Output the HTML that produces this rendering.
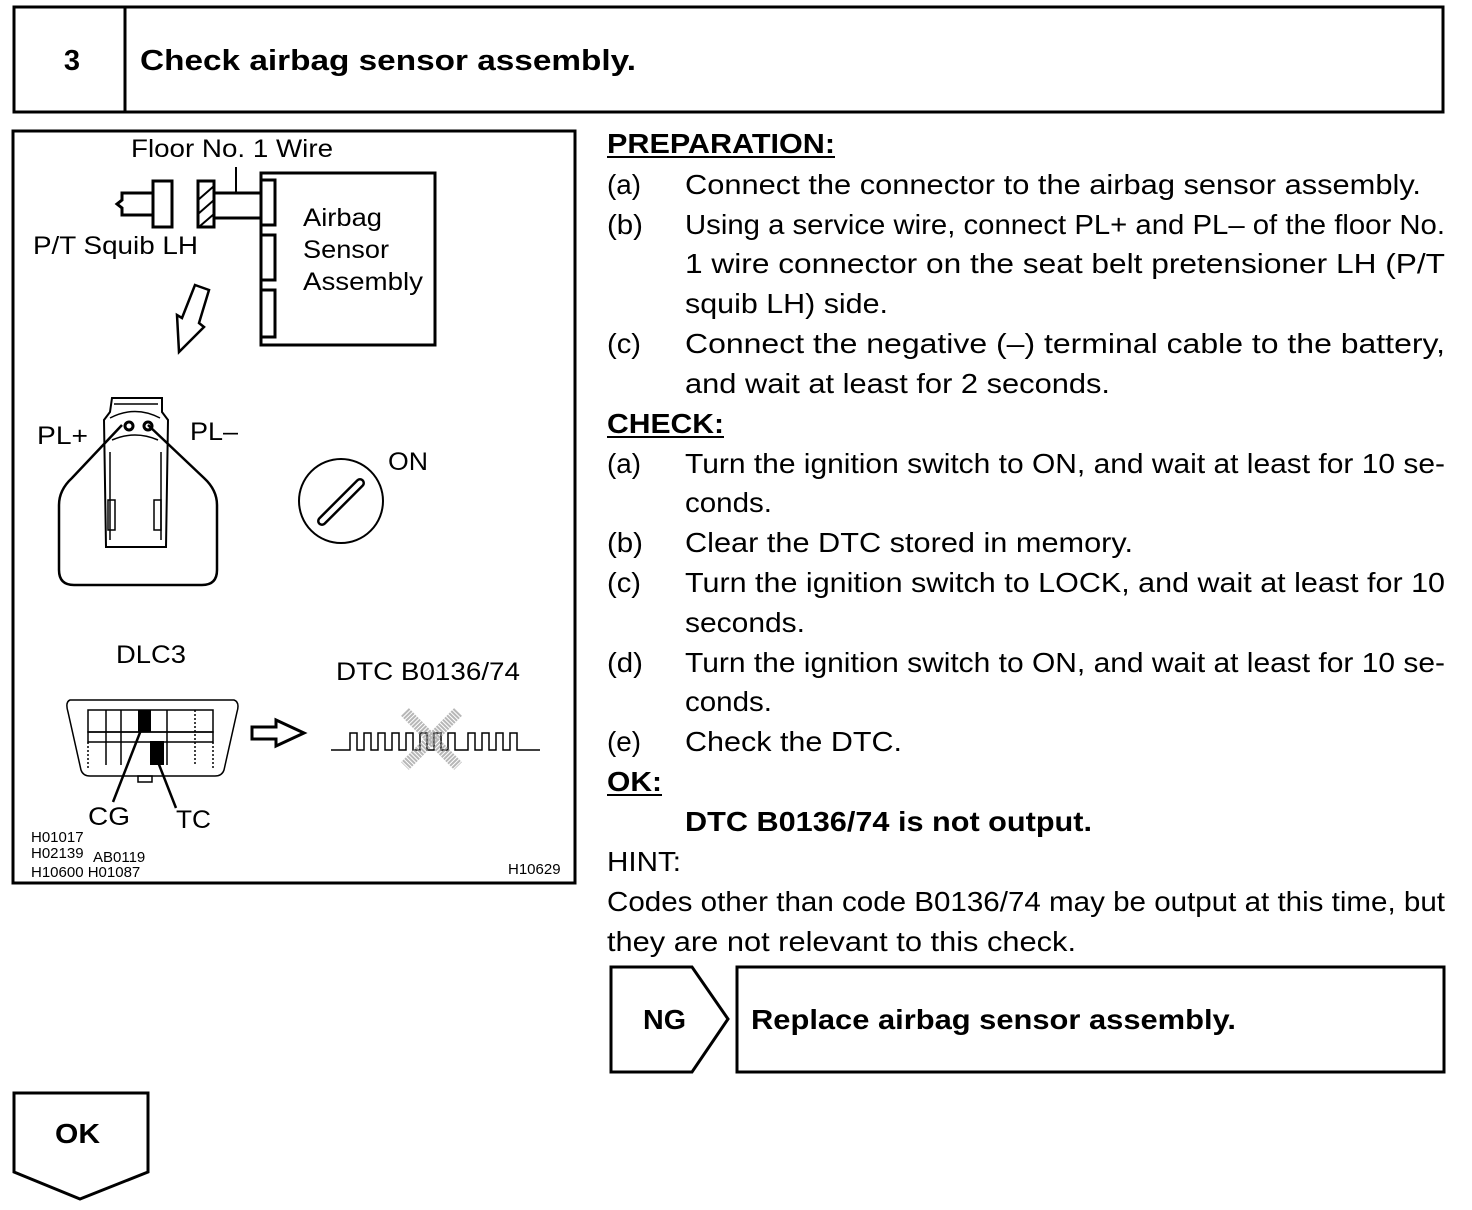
<!DOCTYPE html>
<html><head><meta charset="utf-8"><style>
html,body{margin:0;padding:0;background:#fff;}
svg{display:block;}
text{font-family:"Liberation Sans",Arial,sans-serif;fill:#000;}
.b{font-size:28px;}
.d{font-size:25px;}
.s{font-size:15px;}
.bold{font-weight:bold;}
</style></head><body>
<svg width="1472" height="1210" viewBox="0 0 1472 1210" xmlns="http://www.w3.org/2000/svg">
<!-- header -->
<rect x="14" y="7" width="1429" height="105" fill="none" stroke="#000" stroke-width="3"/>
<line x1="125" y1="7" x2="125" y2="112" stroke="#000" stroke-width="3"/>
<text x="72" y="70" class="bold" text-anchor="middle" style="font-size:29px">3</text>
<text x="140" y="70" class="bold" style="font-size:29px" textLength="496" lengthAdjust="spacingAndGlyphs">Check airbag sensor assembly.</text>

<!-- diagram box -->
<rect x="13" y="131" width="562" height="752" fill="none" stroke="#000" stroke-width="3"/>
<text x="131" y="157" class="d" textLength="202" lengthAdjust="spacingAndGlyphs">Floor No. 1 Wire</text>
<text x="33" y="254" class="d" textLength="165" lengthAdjust="spacingAndGlyphs">P/T Squib LH</text>
<text x="303" y="226" class="d" textLength="79" lengthAdjust="spacingAndGlyphs">Airbag</text>
<text x="303" y="258" class="d" textLength="86" lengthAdjust="spacingAndGlyphs">Sensor</text>
<text x="303" y="290" class="d" textLength="120" lengthAdjust="spacingAndGlyphs">Assembly</text>
<g fill="none" stroke="#000" stroke-width="3">
<rect x="261" y="173" width="174" height="172"/>
<rect x="261" y="180" width="14" height="45"/>
<rect x="261" y="235" width="14" height="45"/>
<rect x="261" y="290" width="14" height="47"/>
<line x1="214" y1="193" x2="261" y2="193"/>
<line x1="214" y1="218" x2="261" y2="218"/>
<line x1="236" y1="167" x2="236" y2="193" stroke-width="2"/>
<rect x="198" y="181" width="16" height="46"/>
<line x1="198" y1="200" x2="214" y2="186" stroke-width="2"/>
<line x1="198" y1="214" x2="214" y2="200" stroke-width="2"/>
<line x1="200" y1="226" x2="214" y2="214" stroke-width="2"/>
<rect x="153" y="181" width="19" height="46"/>
<polyline points="153,193 122,193 122,200 117,204 122,208 122,215 153,215"/>
<polygon points="195,285 209,290 199,323 204,327 179,352 177,315 182,318" stroke-width="2.5"/>
<!-- connector -->
<path d="M122,425 L72,478 Q59,490 59,505 L59,570 Q59,585 74,585 L202,585 Q217,585 217,570 L217,505 Q217,490 204,478 L148,425" stroke-width="2.5"/>
<path d="M112,398 L162,398 L162,412 L168,420 L166,547 L106,547 L104,420 L110,412 Z" stroke-width="2"/>
<path d="M114,404 L158,404 M110,418 Q135,405 160,418 M112,440 Q135,430 158,440 M110,452 L110,540 M161,452 L161,540" stroke-width="1.5"/>
<rect x="108" y="500" width="7" height="30" stroke-width="1.5"/>
<rect x="154" y="500" width="7" height="30" stroke-width="1.5"/>
<circle cx="129" cy="426" r="4" stroke-width="3"/>
<circle cx="148" cy="426" r="4" stroke-width="3"/>
<!-- ignition -->
<circle cx="341" cy="501" r="42" stroke-width="2"/>
<line x1="322" y1="521" x2="360" y2="483" stroke-width="10" stroke-linecap="round"/>
<line x1="322" y1="521" x2="360" y2="483" stroke="#fff" stroke-width="5" stroke-linecap="round"/>
</g>
<text x="37" y="444" class="d" textLength="51" lengthAdjust="spacingAndGlyphs">PL+</text>
<text x="190" y="440" class="d" textLength="48" lengthAdjust="spacingAndGlyphs">PL–</text>
<text x="388" y="470" class="d" textLength="40" lengthAdjust="spacingAndGlyphs">ON</text>

<text x="116" y="663" class="d" textLength="70" lengthAdjust="spacingAndGlyphs">DLC3</text>
<text x="336" y="680" class="d" textLength="184" lengthAdjust="spacingAndGlyphs">DTC B0136/74</text>
<g fill="none" stroke="#000" stroke-width="1.5">
<path d="M70,700 L234,700 Q240,702 237,712 L224,770 Q222,776 215,776 L90,776 Q83,776 81,770 L68,712 Q65,702 70,700 Z"/>
<rect x="88" y="710" width="125" height="22"/>
<rect x="88" y="732" width="125" height="10"/>
<line x1="106" y1="710" x2="106" y2="765"/><line x1="121" y1="710" x2="121" y2="765"/>
<line x1="167" y1="710" x2="167" y2="765"/><line x1="195" y1="710" x2="195" y2="765" stroke-dasharray="2,2"/>
<line x1="88" y1="742" x2="88" y2="768" stroke-dasharray="2,2"/><line x1="213" y1="742" x2="213" y2="768" stroke-dasharray="2,2"/>
<rect x="138" y="776" width="14" height="6"/>
<polygon points="252,727 276,727 276,720 304,733 276,746 276,739 252,739" stroke-width="3"/>
<polyline points="331,750 350,750 350,733 357,733 357,750 364,750 364,733 371,733 371,750 378,750 378,733 385,733 385,750 392,750 392,733 399,733 399,750 406,750 406,733 413,733 413,750 420,750 420,733 427,733 427,750 434,750 434,733 441,733 441,750 448,750 448,733 455,733 455,750 468,750 468,733 475,733 475,750 482,750 482,733 489,733 489,750 496,750 496,733 503,733 503,750 510,750 510,733 517,733 517,750 540,750"/>
</g>
<rect x="138" y="710" width="13" height="22" fill="#000"/>
<rect x="150" y="741" width="14" height="24" fill="#000"/>
<line x1="141" y1="730" x2="113" y2="802" stroke="#000" stroke-width="2.5"/>
<line x1="158" y1="762" x2="176" y2="808" stroke="#000" stroke-width="2.5"/>
<g stroke="#999" stroke-width="11" opacity="0.7" stroke-dasharray="2,1">
<line x1="405" y1="712" x2="458" y2="766"/>
<line x1="458" y1="712" x2="405" y2="766"/>
</g>
<text x="88" y="825" class="d" textLength="42" lengthAdjust="spacingAndGlyphs">CG</text>
<text x="176" y="828" class="d" textLength="35" lengthAdjust="spacingAndGlyphs">TC</text>
<text x="31" y="842" class="s">H01017</text>
<text x="31" y="858" class="s">H02139</text>
<text x="93" y="862" class="s">AB0119</text>
<text x="31" y="877" class="s">H10600 H01087</text>
<text x="508" y="874" class="s">H10629</text>

<!-- right text -->
<text x="607" y="153" class="b bold" textLength="228" lengthAdjust="spacingAndGlyphs">PREPARATION:</text>
<line x1="607" y1="157" x2="835" y2="157" stroke="#000" stroke-width="2"/>
<text x="607" y="194" class="b" textLength="34" lengthAdjust="spacingAndGlyphs">(a)</text><text x="685" y="194" class="b" textLength="736" lengthAdjust="spacingAndGlyphs">Connect the connector to the airbag sensor assembly.</text>
<text x="607" y="234" class="b" textLength="36" lengthAdjust="spacingAndGlyphs">(b)</text><text x="685" y="234" class="b" textLength="760" lengthAdjust="spacingAndGlyphs">Using a service wire, connect PL+ and PL– of the floor No.</text>
<text x="685" y="273" class="b" textLength="760" lengthAdjust="spacingAndGlyphs">1 wire connector on the seat belt pretensioner LH (P/T</text>
<text x="685" y="313" class="b" textLength="203" lengthAdjust="spacingAndGlyphs">squib LH) side.</text>
<text x="607" y="353" class="b" textLength="34" lengthAdjust="spacingAndGlyphs">(c)</text><text x="685" y="353" class="b" textLength="760" lengthAdjust="spacingAndGlyphs">Connect the negative (–) terminal cable to the battery,</text>
<text x="685" y="393" class="b" textLength="425" lengthAdjust="spacingAndGlyphs">and wait at least for 2 seconds.</text>
<text x="607" y="433" class="b bold" textLength="117" lengthAdjust="spacingAndGlyphs">CHECK:</text>
<line x1="607" y1="437" x2="724" y2="437" stroke="#000" stroke-width="2"/>
<text x="607" y="473" class="b" textLength="34" lengthAdjust="spacingAndGlyphs">(a)</text><text x="685" y="473" class="b" textLength="760" lengthAdjust="spacingAndGlyphs">Turn the ignition switch to ON, and wait at least for 10 se-</text>
<text x="685" y="512" class="b" textLength="87" lengthAdjust="spacingAndGlyphs">conds.</text>
<text x="607" y="552" class="b" textLength="36" lengthAdjust="spacingAndGlyphs">(b)</text><text x="685" y="552" class="b" textLength="448" lengthAdjust="spacingAndGlyphs">Clear the DTC stored in memory.</text>
<text x="607" y="592" class="b" textLength="34" lengthAdjust="spacingAndGlyphs">(c)</text><text x="685" y="592" class="b" textLength="760" lengthAdjust="spacingAndGlyphs">Turn the ignition switch to LOCK, and wait at least for 10</text>
<text x="685" y="632" class="b" textLength="120" lengthAdjust="spacingAndGlyphs">seconds.</text>
<text x="607" y="672" class="b" textLength="36" lengthAdjust="spacingAndGlyphs">(d)</text><text x="685" y="672" class="b" textLength="760" lengthAdjust="spacingAndGlyphs">Turn the ignition switch to ON, and wait at least for 10 se-</text>
<text x="685" y="711" class="b" textLength="87" lengthAdjust="spacingAndGlyphs">conds.</text>
<text x="607" y="751" class="b" textLength="34" lengthAdjust="spacingAndGlyphs">(e)</text><text x="685" y="751" class="b" textLength="217" lengthAdjust="spacingAndGlyphs">Check the DTC.</text>
<text x="607" y="791" class="b bold" textLength="55" lengthAdjust="spacingAndGlyphs">OK:</text>
<line x1="607" y1="795" x2="662" y2="795" stroke="#000" stroke-width="2"/>
<text x="685" y="831" class="b bold" textLength="407" lengthAdjust="spacingAndGlyphs">DTC B0136/74 is not output.</text>
<text x="607" y="871" class="b" textLength="74" lengthAdjust="spacingAndGlyphs">HINT:</text>
<text x="607" y="911" class="b" textLength="838" lengthAdjust="spacingAndGlyphs">Codes other than code B0136/74 may be output at this time, but</text>
<text x="607" y="951" class="b" textLength="469" lengthAdjust="spacingAndGlyphs">they are not relevant to this check.</text>

<!-- NG -->
<polygon points="611,967 692,967 728,1019 692,1072 611,1072" fill="none" stroke="#000" stroke-width="3"/>
<rect x="737" y="967" width="707" height="105" fill="none" stroke="#000" stroke-width="3"/>
<text x="643" y="1029" class="b bold" textLength="43" lengthAdjust="spacingAndGlyphs">NG</text>
<text x="751" y="1029" class="b bold" textLength="485" lengthAdjust="spacingAndGlyphs">Replace airbag sensor assembly.</text>

<!-- OK -->
<polygon points="14,1093 148,1093 148,1172 80,1199 14,1172" fill="none" stroke="#000" stroke-width="3"/>
<text x="55" y="1143" class="b bold" textLength="45" lengthAdjust="spacingAndGlyphs">OK</text>
</svg>
</body></html>
